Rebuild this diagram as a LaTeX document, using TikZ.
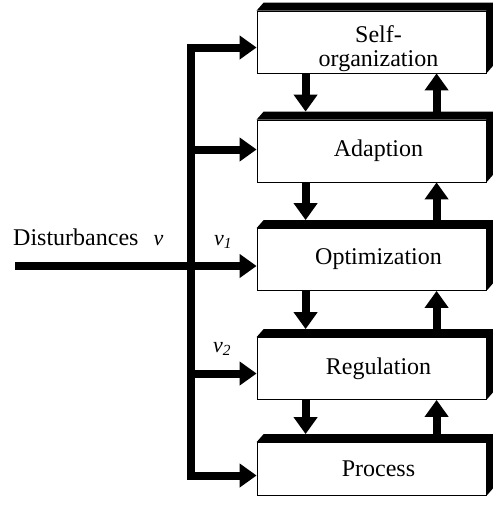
\documentclass[tikz,border=0pt]{standalone}
\usepackage{fontspec}
\setmainfont{Liberation Serif}
\usetikzlibrary{arrows.meta,calc}

\begin{document}
\begin{tikzpicture}[x=1pt,y=-1pt,
  level/.style={draw, line width=0.8pt, fill=white, minimum width=229pt,
    minimum height=62pt, inner sep=0pt},
  lvltext/.style={align=center, xshift=7pt, font=\fontsize{24}{24}\selectfont},
  feed/.style={line width=8pt, -{Triangle[length=17pt,width=23pt]}},
  bus/.style={line width=8pt, line join=miter,
    {Triangle[length=17pt,width=23pt]}-{Triangle[length=17pt,width=23pt]}},
  sig/.style={anchor=base, font=\fontsize{22}{24}\selectfont\itshape}
]

\useasboundingbox (0,0) rectangle (493,507);

% Levels of the hierarchy
\node[level, label={[lvltext, yshift=-7pt]center:{Self-\\organization}}] (self) at (371.5,42) {};
\node[level, label={[lvltext]center:Adaption}] (adapt) at (371.5,151) {};
\node[level, label={[lvltext]center:Optimization}] (opt) at (371.5,259.5) {};
\node[level, label={[lvltext]center:Regulation}] (reg) at (371.5,368.5) {};
\node[level, minimum height=53pt, label={[lvltext]center:Process}] (proc) at (371.5,469) {};

% Black top and right faces
\foreach \n in {self,adapt,opt,reg,proc}
  \fill (\n.north west) -- ++(7,-8) -- ($(\n.north east)+(7,-8)$)
    -- ($(\n.south east)+(7,-8)$) -- (\n.south east) -- (\n.north east) -- cycle;

% Arrows between levels
\foreach \a/\b in {self/adapt,adapt/opt,opt/reg,reg/proc} {
  \draw[feed] ($(\a.south west)+(49,0)$) -- ($(\b.north west)+(49,-8)$);
  \draw[feed] ($(\b.north west)+(180,-8)$) -- ($(\a.south west)+(180,0)$);
}

% Disturbance bus
\coordinate (b1) at (190.5,47.5);
\coordinate (b2) at (190.5,149.5);
\coordinate (b3) at (190.5,266);
\coordinate (b4) at (190.5,373.5);
\coordinate (b5) at (190.5,475.5);
\coordinate (in) at (15,266);

\draw[bus] (b1 -| self.west) -- (b1) -- (b5) -- (b5 -| proc.west);
\draw[feed] (b2) -- (b2 -| adapt.west);
\draw[feed] (b4) -- (b4 -| reg.west);
\draw[feed] (in) -- (in -| opt.west);

% Labels
\node[anchor=base west, inner sep=0pt, font=\fontsize{24}{24}\selectfont]
  (dist) at (13,245) {Disturbances};
\node[sig] (v) at (158.5,245) {v};
\node[sig] (v1) at (223,245) {v\textsubscript{1}};
\node[sig] (v2) at (222,352) {v\textsubscript{2}};

\end{tikzpicture}
\end{document}
